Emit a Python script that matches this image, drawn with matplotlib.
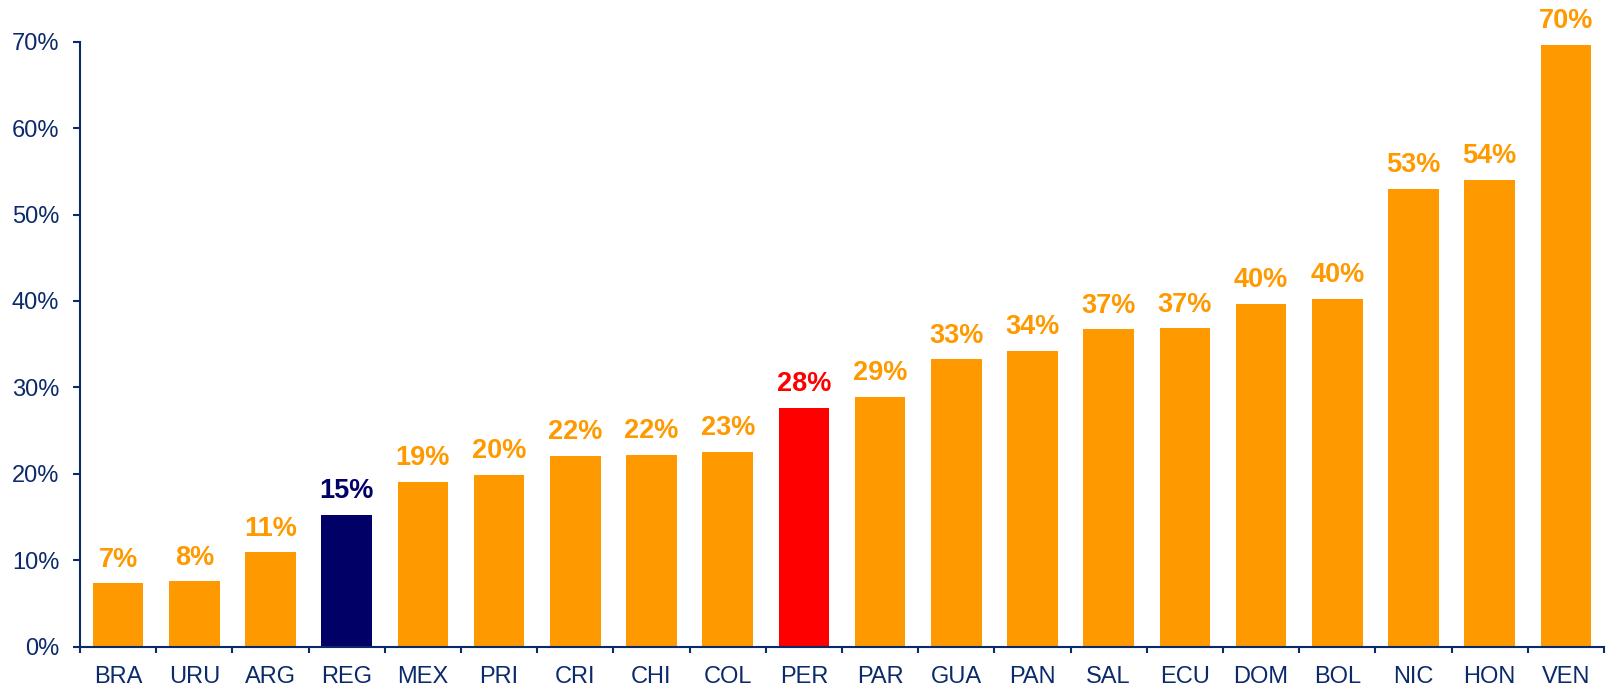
import numpy as np
import matplotlib
matplotlib.use("Agg")
import matplotlib.pyplot as plt
from matplotlib.ticker import FixedLocator, PercentFormatter

# ======================================================
# DATA
# ======================================================

countries = [
    "BRA", "URU", "ARG", "REG", "MEX", "PRI", "CRI", "CHI", "COL", "PER",
    "PAR", "GUA", "PAN", "SAL", "ECU", "DOM", "BOL", "NIC", "HON", "VEN"
]

values = [
    7.34, 7.57, 10.92, 15.24, 19.09, 19.87, 22.06, 22.18, 22.52, 27.62,
    28.93, 33.25, 34.21, 36.72, 36.84, 39.69, 40.23, 52.96, 54.00, 69.65
]

highlight = {"REG": "#000066", "PER": "#FF0000"}

# ======================================================
# STYLE
# ======================================================

ORANGE = "#FF9900"
AXIS_COLOR = "#0B2A6B"

plt.rcParams["font.family"] = ["Liberation Sans", "DejaVu Sans"]

fig = plt.figure(figsize=(16.08, 6.90), dpi=100)
ax = fig.add_axes([80 / 1608, 1 - 646.7 / 690, 1524 / 1608, 605 / 690])

x = np.arange(len(countries))
colors = [highlight.get(c, ORANGE) for c in countries]

ax.bar(x, values, width=0.665, color=colors, zorder=2)

for xi, v, c in zip(x, values, colors):
    ax.annotate(
        f"{v:.0f}%",
        xy=(xi, v),
        xytext=(0, 12),
        textcoords="offset points",
        ha="center",
        va="baseline",
        fontsize=19.5,
        fontweight="bold",
        color=c,
        annotation_clip=False
    )

ax.set_xlim(-0.5, len(countries) - 0.5)
ax.set_ylim(0, 70)

# y axis
ax.yaxis.set_major_locator(FixedLocator(np.arange(0, 71, 10)))
ax.yaxis.set_major_formatter(PercentFormatter(decimals=0))
ax.tick_params(axis="y", direction="out", length=5, width=1.5,
               color=AXIS_COLOR, labelcolor=AXIS_COLOR, labelsize=17, pad=10)

# x axis: labels at centres, tick marks at the boundaries
ax.set_xticks(x)
ax.set_xticklabels(countries)
ax.set_xticks(np.arange(-0.5, len(countries)), minor=True)
ax.tick_params(axis="x", which="major", length=0, labelcolor=AXIS_COLOR,
               labelsize=17, pad=14)
ax.tick_params(axis="x", which="minor", direction="out", length=4.5,
               width=1.5, color=AXIS_COLOR)

for side in ["top", "right"]:
    ax.spines[side].set_visible(False)
for side in ["left", "bottom"]:
    ax.spines[side].set_color(AXIS_COLOR)
    ax.spines[side].set_linewidth(1.5)

fig.savefig("out.png", dpi=100)
